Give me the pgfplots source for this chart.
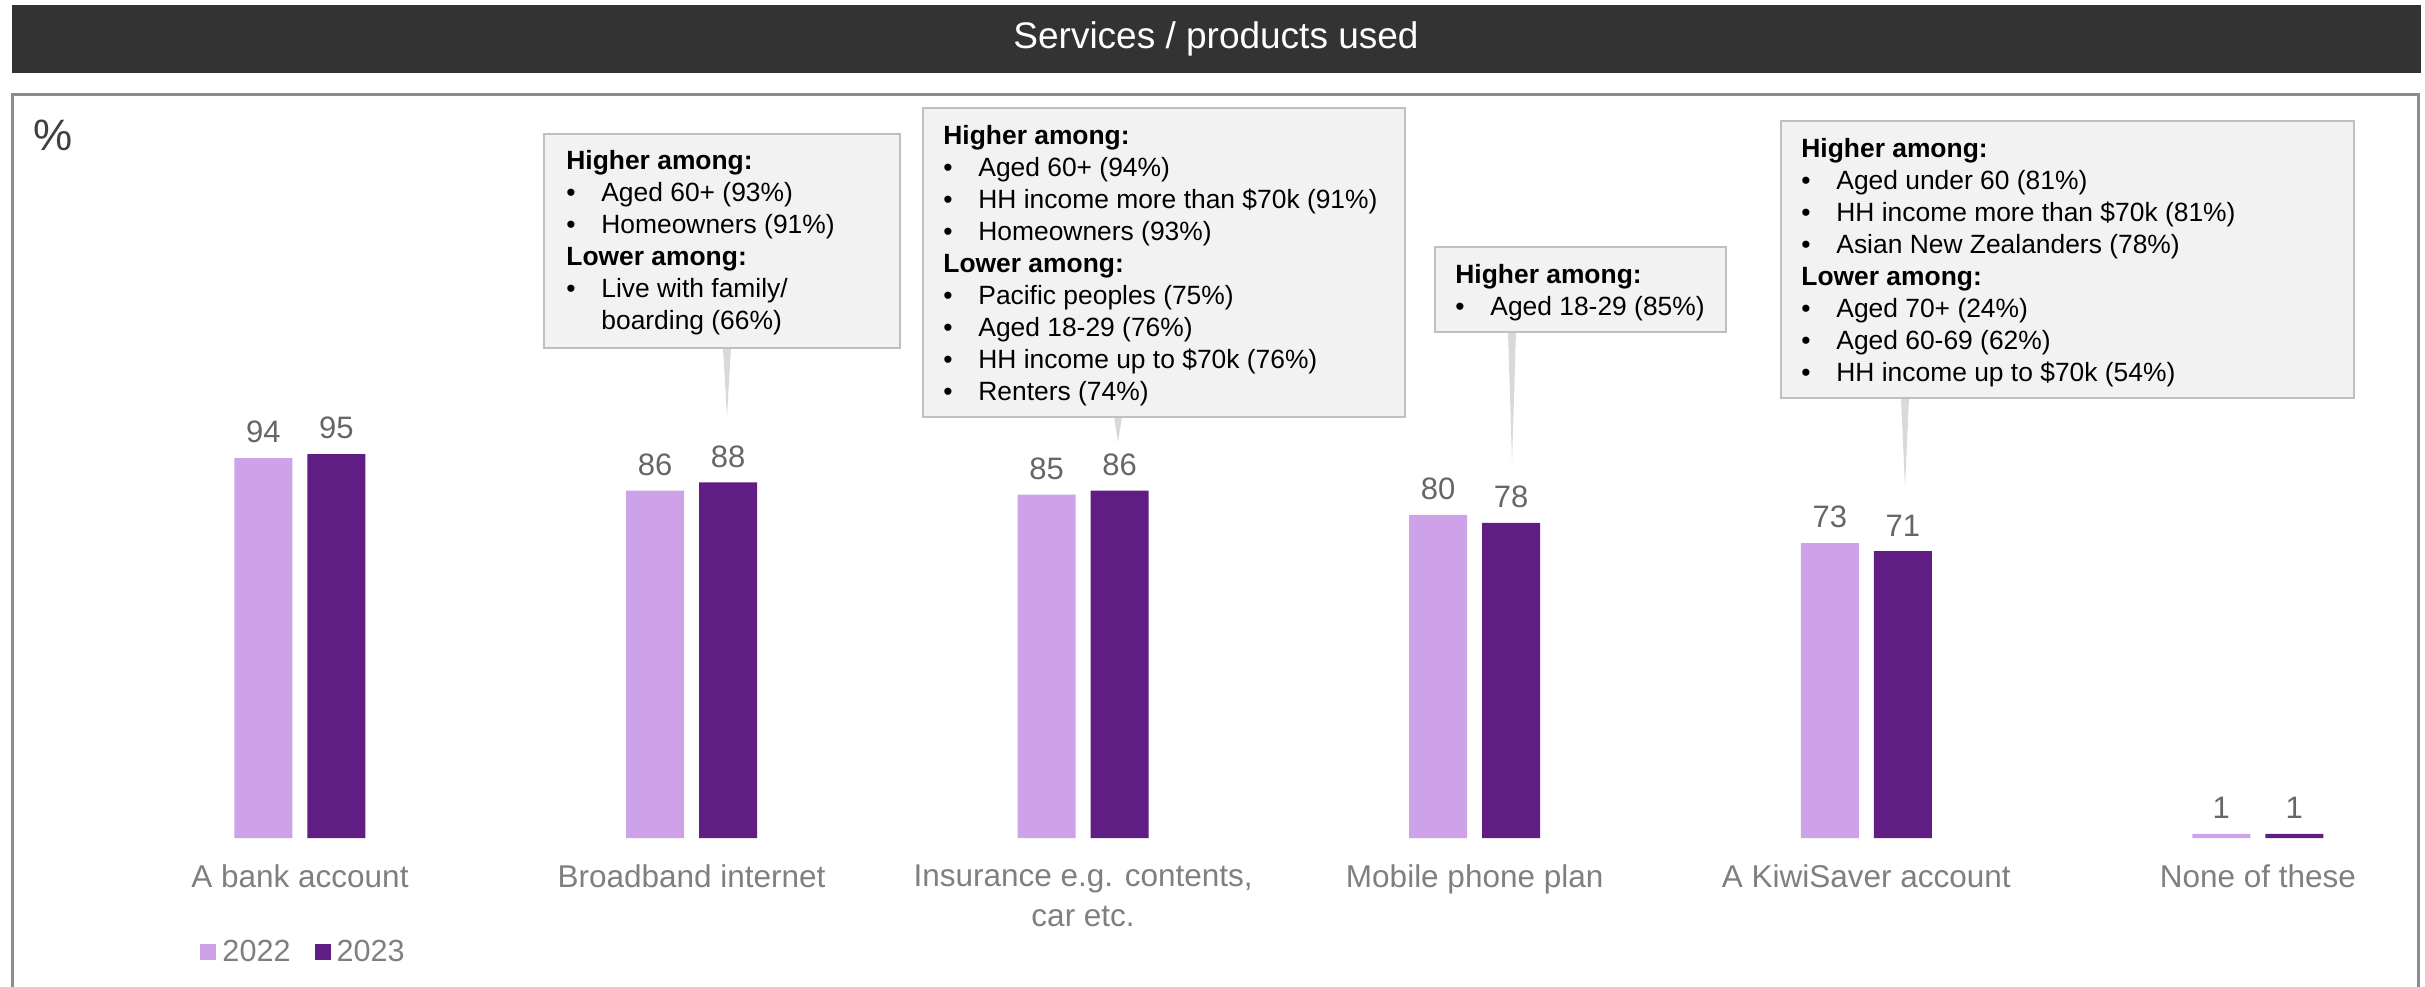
\documentclass[border=0pt]{standalone}
\usepackage{pgfplots}
\pgfplotsset{compat=1.18}
\usepackage{fontspec}
\setmainfont{Liberation Sans}
\definecolor{c22}{HTML}{CDA2E8}
\definecolor{c23}{HTML}{601E84}
\definecolor{numgray}{HTML}{666666}
\definecolor{catgray}{HTML}{7F7F7F}
\definecolor{boxfill}{HTML}{F2F2F2}
\definecolor{boxline}{HTML}{BFBFBF}
\definecolor{ptr}{HTML}{D9D9D9}
\definecolor{titlebg}{HTML}{333333}
\definecolor{panel}{HTML}{8C8C8C}
\newcommand{\bl}{\makebox[17.5pt][l]{\textbullet}}
\newcommand{\ind}{\hspace*{17.5pt}}
\begin{document}
\begin{tikzpicture}[x=0.5pt,y=0.5pt]
\useasboundingbox (0,0) rectangle (2425,986);
% title bar
\fill[titlebg] (12,913) rectangle (2421,981);
\node[text=white, font=\fontsize{18.5}{22}\selectfont] at (1216,947) {Services / products used};
% panel
\draw[panel, line width=1.5pt] (12,-20) -- (12,891) -- (2418,891) -- (2418,-20);
\node[text=black!75, font=\fontsize{22}{26}\selectfont] at (53,851) {\%};

\begin{axis}[
  at={(52.1pt,74pt)}, anchor=south west,
  scale only axis, width=1155.2pt, height=202pt,
  ybar=7.5pt, bar width=29pt,
  xmin=-0.5, xmax=5.4, ymin=0, ymax=100,
  enlarge x limits=false, enlarge y limits=false,
  axis line style={draw=none}, ytick=\empty,
  xtick={0,1,2,3,4,5},
  xticklabels={A bank account, Broadband internet, {Insurance e.g. contents,\\car etc.}, Mobile phone plan, A KiwiSaver account, None of these},
  major tick length=0pt,
  xticklabel style={font=\fontsize{15.75}{20}\selectfont, text=catgray, align=center, yshift=-10pt},
  nodes near coords,
  /pgf/number format/assume math mode=true,
  every node near coord/.append style={font=\fontsize{15.5}{18}\selectfont, text=numgray, yshift=4pt},
  legend image code/.code={\fill[#1] (0pt,-4pt) rectangle (8pt,4pt);},
  legend columns=-1,
  legend style={at={(0.0415,-0.282)}, anchor=west, draw=none, fill=none, inner sep=0pt,
    font=\fontsize{15.3}{18}\selectfont, text=catgray,
    nodes={inner sep=3pt},
    /tikz/every even column/.append style={column sep=9pt}},
  clip=false,
]
\addplot[fill=c22, draw=none] coordinates {(0,94) (1,86) (2,85) (3,80) (4,73) (5,1)};
\addplot[fill=c23, draw=none] coordinates {(0,95) (1,88) (2,86) (3,78) (4,71) (5,1)};
\legend{2022,2023}
\end{axis}

% callout A (Broadband)
\fill[ptr] (723,638) -- (731,638) -- (727,569) -- cycle;
\draw[fill=boxfill, draw=boxline, line width=1pt] (544,852) rectangle (900,638);
\node[anchor=north west, inner sep=0pt, font=\fontsize{13.2}{16}\selectfont] at (566,839) {%
\begin{tabular}{@{}l@{}}
\textbf{Higher among:}\\
\bl Aged 60+ (93\%)\\
\bl Homeowners (91\%)\\
\textbf{Lower among:}\\
\bl Live with family/\\
\ind boarding (66\%)
\end{tabular}};

% callout B (Insurance)
\fill[ptr] (1114,569) -- (1122,569) -- (1118,544) -- cycle;
\draw[fill=boxfill, draw=boxline, line width=1pt] (923,878) rectangle (1405,569);
\node[anchor=north west, inner sep=0pt, font=\fontsize{13.2}{16}\selectfont] at (943,864) {%
\begin{tabular}{@{}l@{}}
\textbf{Higher among:}\\
\bl Aged 60+ (94\%)\\
\bl HH income more than \$70k (91\%)\\
\bl Homeowners (93\%)\\
\textbf{Lower among:}\\
\bl Pacific peoples (75\%)\\
\bl Aged 18-29 (76\%)\\
\bl HH income up to \$70k (76\%)\\
\bl Renters (74\%)
\end{tabular}};

% callout C (Mobile)
\fill[ptr] (1508,654) -- (1516,654) -- (1512,524) -- cycle;
\draw[fill=boxfill, draw=boxline, line width=1pt] (1435,739) rectangle (1726,654);
\node[anchor=north west, inner sep=0pt, font=\fontsize{13.2}{16}\selectfont] at (1455,725) {%
\begin{tabular}{@{}l@{}}
\textbf{Higher among:}\\
\bl Aged 18-29 (85\%)
\end{tabular}};

% callout D (KiwiSaver)
\fill[ptr] (1901,588) -- (1909,588) -- (1905,498) -- cycle;
\draw[fill=boxfill, draw=boxline, line width=1pt] (1781,865) rectangle (2354,588);
\node[anchor=north west, inner sep=0pt, font=\fontsize{13.2}{16}\selectfont] at (1801,851) {%
\begin{tabular}{@{}l@{}}
\textbf{Higher among:}\\
\bl Aged under 60 (81\%)\\
\bl HH income more than \$70k (81\%)\\
\bl Asian New Zealanders (78\%)\\
\textbf{Lower among:}\\
\bl Aged 70+ (24\%)\\
\bl Aged 60-69 (62\%)\\
\bl HH income up to \$70k (54\%)
\end{tabular}};
\end{tikzpicture}
\end{document}
